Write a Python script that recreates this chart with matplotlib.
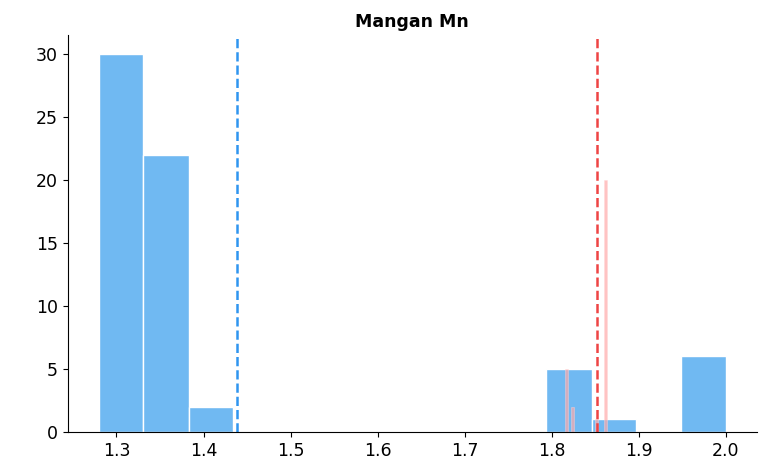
import numpy as np
import matplotlib.pyplot as plt

# main histogram (blue), bins
blue_edges = [1.280, 1.331, 1.383, 1.434, 1.486, 1.537, 1.589, 1.640,
              1.691, 1.743, 1.794, 1.846, 1.897, 1.949, 2.000]
blue_counts = [30, 22, 2, 0, 0, 0, 0, 0, 0, 0, 5, 1, 0, 6]

# narrow second histogram (pink)
pink_edges = [1.8150, 1.8185, 1.8220, 1.8255, 1.8290, 1.8325, 1.8360, 1.8395,
              1.8430, 1.8465, 1.8500, 1.8535, 1.8570, 1.8605, 1.8640]
pink_counts = [5, 0, 2, 0, 0, 0, 0, 0, 0, 0, 1, 0, 0, 20]

blue_mean = 1.439
red_mean = 1.852

fig = plt.figure(figsize=(7.7, 4.68), dpi=100)
ax = fig.add_axes([0.088, 0.077, 0.895, 0.848])

ax.hist(blue_edges[:-1], bins=blue_edges, weights=blue_counts,
        color='#70b9f2', edgecolor='white', linewidth=1.0)
ax.hist(pink_edges[:-1], bins=pink_edges, weights=pink_counts,
        color='#ffaaaa', alpha=0.7, edgecolor='#ffd6d6', linewidth=0.4)

ax.axvline(blue_mean, color='#2f95f0', linestyle='--', linewidth=1.8)
ax.axvline(red_mean, color='#ee4444', linestyle='--', linewidth=1.8)

ax.set_title('Mangan Mn', fontsize=12.5, fontweight='bold')
ax.spines['top'].set_visible(False)
ax.spines['right'].set_visible(False)
ax.tick_params(labelsize=12.5)

fig.savefig('out.png', dpi=100)
